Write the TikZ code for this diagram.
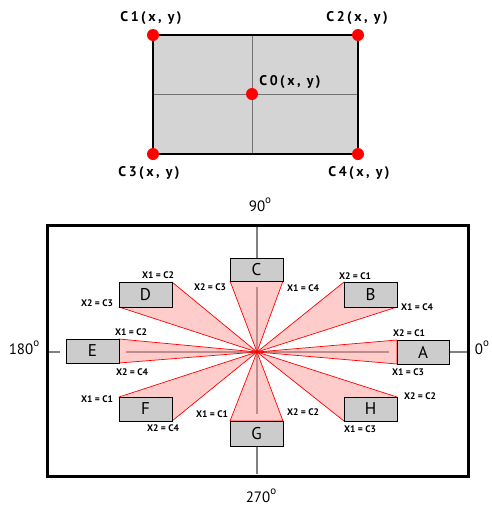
\documentclass[tikz,border=0pt]{standalone}
\usepackage{fontspec}
\setmainfont{PT Sans}
\newcommand{\dg}{\raisebox{0.5em}{\fontsize{11}{11}\selectfont o}}
\begin{document}
\begin{tikzpicture}[x=1pt,y=-1pt,
  dot/.style={circle,fill=red,inner sep=0pt,minimum size=12pt},
  clab/.style={font=\fontsize{14}{15}\selectfont\bfseries\addfontfeatures{LetterSpace=18},inner sep=0pt},
  gbox/.style={draw=black,fill=black!20,line width=0.8pt,inner sep=0pt,font=\fontsize{17}{18}\selectfont},
  xlab/.style={font=\fontsize{9.5}{10}\selectfont\bfseries,inner sep=0pt},
  ang/.style={font=\fontsize{15}{16}\selectfont,inner sep=0pt},
  axis/.style={draw=black!50,line width=1.4pt},
  ray/.style={draw=red,fill=red!40,fill opacity=0.5,line width=0.7pt,line join=round}]
\useasboundingbox (0,0) rectangle (492,512);
% top rectangle
\fill[black!17] (153,35) rectangle (358,154);
\draw[black!55,line width=0.8pt] (252,35) -- (252,154) (153,94) -- (358,94);
\draw[line width=2.6pt] (153,35) rectangle (358,154);
\node[dot] (c1) at (153,35) {};
\node[dot] (c2) at (358,35) {};
\node[dot] (c3) at (153,154) {};
\node[dot] (c4) at (358,154) {};
\node[dot] (c0) at (252,94) {};
\node[clab] (l1) at (151,18) {C1(x, y)};
\node[clab] (l2) at (357,18) {C2(x, y)};
\node[clab] (l3) at (149,173) {C3(x, y)};
\node[clab] (l4) at (359,173) {C4(x, y)};
\node[clab] (l0) at (290,82) {C0(x, y)};
% frame
\coordinate (o) at (257,352);
\draw[axis] (257,226) -- (257,258) (257,287) -- (257,414) (257,446) -- (257,474);
\draw[axis] (48,352) -- (60,352) (126,352) -- (389,352) (449,352) -- (467,352);
% rays
\draw[ray] (o) -- (230,281) -- (283,281) -- cycle;
\draw[ray] (o) -- (172,282) -- (119,307) -- cycle;
\draw[ray] (o) -- (119,339) -- (119,363) -- cycle;
\draw[ray] (o) -- (119,397) -- (172,421) -- cycle;
\draw[ray] (o) -- (230,421) -- (283,421) -- cycle;
\draw[ray] (o) -- (397,397) -- (344,421) -- cycle;
\draw[ray] (o) -- (397,340) -- (397,364) -- cycle;
\draw[ray] (o) -- (344,282) -- (397,307) -- cycle;
\draw[line width=3pt] (47,225) rectangle (468,476);
% boxes
\node[gbox,minimum width=53pt,minimum height=23pt] (C) at (256.5,269.5) {C};
\node[gbox,minimum width=53pt,minimum height=25pt] (D) at (145.5,294.5) {D};
\node[gbox,minimum width=53pt,minimum height=25pt] (B) at (370.5,294.5) {B};
\node[gbox,minimum width=53pt,minimum height=24pt] (E) at (92.5,351) {E};
\node[gbox,minimum width=52pt,minimum height=24pt] (A) at (423,352) {A};
\node[gbox,minimum width=53pt,minimum height=24pt] (F) at (145.5,409) {F};
\node[gbox,minimum width=53pt,minimum height=24pt] (H) at (370.5,409) {H};
\node[gbox,minimum width=53pt,minimum height=25pt] (G) at (256.5,433.5) {G};
% labels
\node[xlab] at (158,275) {X1 = C2};
\node[xlab] at (97,303) {X2 = C3};
\node[xlab] at (210,287) {X2 = C3};
\node[xlab] at (131,332) {X1 = C2};
\node[xlab] at (303,288) {X1 = C4};
\node[xlab] at (355,276) {X2 = C1};
\node[xlab] at (417,307) {X1 = C4};
\node[xlab] at (409,333) {X2 = C1};
\node[xlab] at (132,372) {X2 = C4};
\node[xlab] at (97,399) {X1 = C1};
\node[xlab] at (163,428) {X2 = C4};
\node[xlab] at (212,414) {X1 = C1};
\node[xlab] at (408,372) {X1 = C3};
\node[xlab] at (420,396) {X2 = C2};
\node[xlab] at (303,412) {X2 = C2};
\node[xlab] at (360,429) {X1 = C3};
% angles
\node[ang] (a90) at (260,205) {90\dg};
\node[ang] (a180) at (24,348) {180\dg};
\node[ang] (a0) at (482,348) {0\dg};
\node[ang] (a270) at (261,496) {270\dg};
\end{tikzpicture}
\end{document}
